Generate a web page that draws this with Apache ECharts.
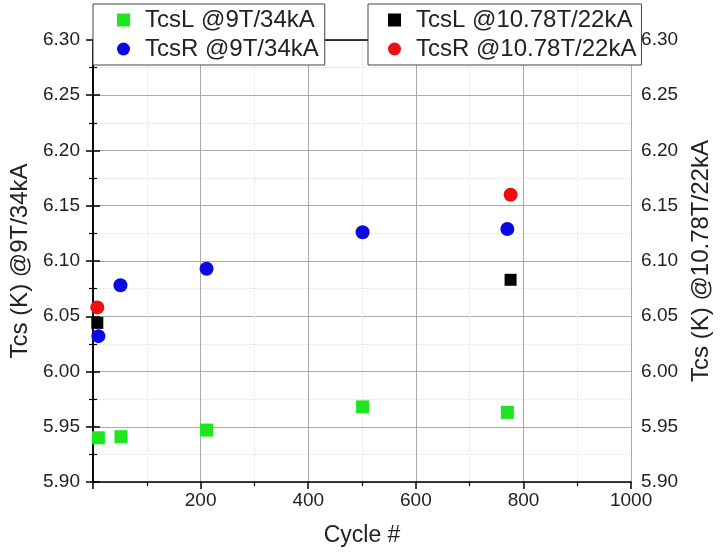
<!DOCTYPE html>
<html><head><meta charset="utf-8">
<script src="https://cdn.jsdelivr.net/npm/echarts@6/dist/echarts.min.js"></script>
<style>html,body{margin:0;padding:0;background:#fff}#c{width:721px;height:552px}</style>
</head><body><div id="c"></div>
<script>
const seriesNames = ['TcsL @9T/34kA','TcsR @9T/34kA','TcsL @10.78T/22kA','TcsR @10.78T/22kA'];
const tcsL9 = [[10,5.940],[52,5.941],[211,5.947],[501,5.968],[770,5.963]];
const tcsR9 = [[10,6.032],[51,6.078],[211,6.093],[501,6.126],[770,6.129]];
const tcsL10 = [[8,6.044],[776,6.083]];
const tcsR10 = [[8,6.058],[776,6.160]];
const xTicks = [200,400,600,800,1000];
const yTicks = ['5.90','5.95','6.00','6.05','6.10','6.15','6.20','6.25','6.30'];

const FONT = 'Liberation Sans, Arial, sans-serif';
const chart = echarts.init(document.getElementById('c'));
const axisCommon = {
  axisLine:{show:true,lineStyle:{color:'#000',width:1.5}},
  axisTick:{show:true,length:7,lineStyle:{color:'#000',width:1.5}},
  minorTick:{show:true,splitNumber:2,length:4,lineStyle:{color:'#000',width:1.2}},
  splitLine:{show:true,lineStyle:{color:'#aaaaaa',width:1}},
  minorSplitLine:{show:true,lineStyle:{color:'#e2e2e2',width:1,type:'dotted'}},
  axisLabel:{color:'#222',fontSize:19,fontFamily:FONT}
};
const yLabelFmt = v=>{const s=v.toFixed(2);return yTicks.includes(s)?s:'';};
const yCommon = Object.assign({}, axisCommon, {
  type:'value', min:5.9, max:6.3, interval:0.05,
  nameLocation:'middle', nameRotate:90,
  nameTextStyle:{color:'#222',fontSize:24,fontFamily:FONT}
});
const legendCommon = {
  orient:'vertical',top:4,itemWidth:13,itemHeight:13,itemGap:5,
  backgroundColor:'#fff',borderColor:'#444',borderWidth:1,
  textStyle:{fontSize:24,fontFamily:FONT,color:'#222',padding:[0,0,0,10]}
};
chart.setOption({
  animation:false,
  backgroundColor:'#fff',
  grid:{left:93,right:78,top:40,bottom:69},
  legend:[
    Object.assign({}, legendCommon, {
      data:[{name:seriesNames[0],icon:'rect'},{name:seriesNames[1],icon:'circle'}],
      left:93,padding:[4,6,4,24]}),
    Object.assign({}, legendCommon, {
      data:[{name:seriesNames[2],icon:'rect'},{name:seriesNames[3],icon:'circle'}],
      left:368,padding:[4,5,4,20]})
  ],
  xAxis:[
    Object.assign({}, axisCommon, {
      type:'value', min:0, max:1000, interval:200, position:'bottom',
      name:'Cycle #', nameLocation:'middle', nameGap:42,
      nameTextStyle:{color:'#222',fontSize:23,fontFamily:FONT},
      axisLabel:Object.assign({}, axisCommon.axisLabel, {margin:9,formatter:v=>xTicks.includes(v)?String(v):''})
    }),
    {type:'value', min:0, max:1000, position:'top', axisLine:{show:true,lineStyle:{color:'#000',width:1.5}},
     axisTick:{show:false}, axisLabel:{show:false}, splitLine:{show:false}}
  ],
  yAxis:[
    Object.assign({}, yCommon, {position:'left', name:'Tcs (K) @9T/34kA', nameGap:59,
      axisLabel:Object.assign({}, axisCommon.axisLabel, {margin:13,formatter:yLabelFmt})}),
    Object.assign({}, yCommon, {position:'right', name:'Tcs (K) @10.78T/22kA', nameGap:52,
      axisLabel:Object.assign({}, axisCommon.axisLabel, {margin:10,formatter:yLabelFmt}),
      splitLine:{show:false}, minorSplitLine:{show:false}})
  ],
  series:[
    {name:seriesNames[2],type:'scatter',yAxisIndex:1,symbol:'rect',symbolSize:12,itemStyle:{color:'#000',opacity:1},data:tcsL10},
    {name:seriesNames[3],type:'scatter',yAxisIndex:1,symbol:'circle',symbolSize:14,itemStyle:{color:'#ee1010',opacity:1},data:tcsR10},
    {name:seriesNames[0],type:'scatter',symbol:'rect',symbolSize:13,itemStyle:{color:'#1ee61e',opacity:1},data:tcsL9},
    {name:seriesNames[1],type:'scatter',symbol:'circle',symbolSize:14,itemStyle:{color:'#0a0ae0',opacity:1},data:tcsR9}
  ]
});
</script></body></html>
